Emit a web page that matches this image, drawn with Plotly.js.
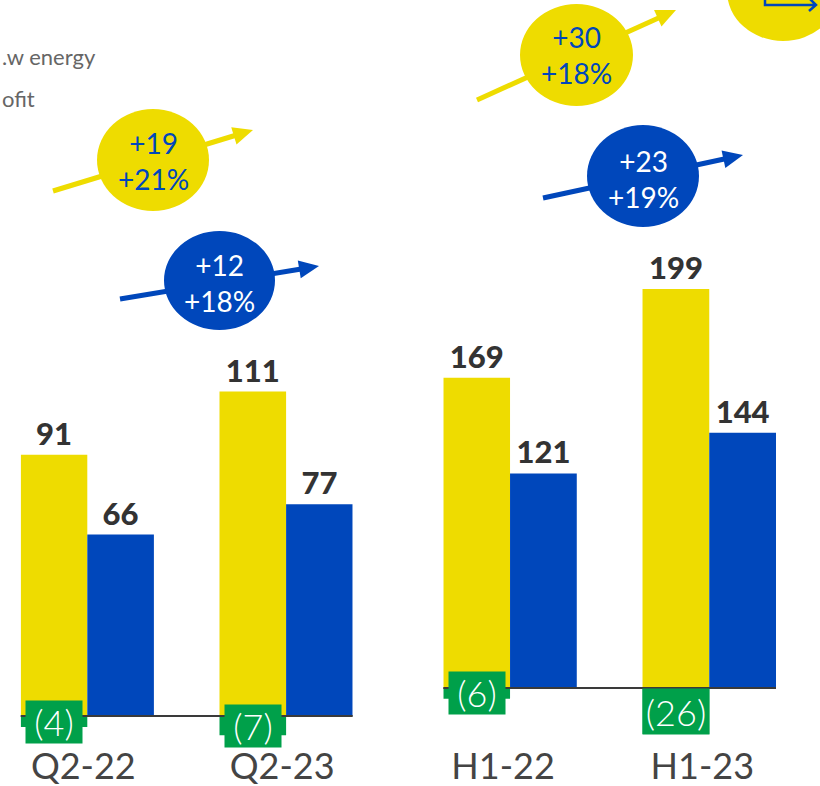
<!DOCTYPE html>
<html>
<head>
<meta charset="utf-8">
<script src="https://cdn.plot.ly/plotly-3.0.1.min.js"></script>
<style>html,body{margin:0;padding:0;background:#fff;}#chart{width:820px;height:786px;}</style>
</head>
<body>
<div id="chart"></div>
<script>
// ---- data ----
const categoriesQ = ['Q2-22', 'Q2-23'];
const categoriesH = ['H1-22', 'H1-23'];
const yellowQ = [91, 111];
const blueQ = [66, 77];
const greenQ = [-4, -7];
const yellowH = [169, 199];
const blueH = [121, 144];
const greenH = [-6, -26];
const bubbleAbs = ['+19', '+12', '+30', '+23'];
const bubblePct = ['+21%', '+18%', '+18%', '+19%'];
const legendTexts = ['.w energy', 'ofit'];

// ---- style ----
const YEL = '#EEDC00', BLU = '#0047BB', GRN = '#00A04A', DARK = '#3a3a3a';
const W = 820, H = 786;
const FONT = 'Lato, "Open Sans", sans-serif';
const BW = 0.335;
const plotBottom = 742; // pixel of y-domain bottom
const px = x => x / W, py = y => 1 - y / H;

function yRange(k, base) { return [-(plotBottom - base) / k, base / k]; }

function panelTraces(cats, yel, blu, grn, xa, ya) {
  const yelTotal = yel.map((v, i) => v - grn[i]);
  return [
    {type: 'bar', x: cats, y: yelTotal, xaxis: xa, yaxis: ya, width: BW, offset: -BW,
     marker: {color: YEL, line: {width: 0}}, text: yel.map(String), textposition: 'outside',
     textfont: {family: FONT, size: 31, color: '#333', weight: 900}, cliponaxis: false, hoverinfo: 'skip'},
    {type: 'bar', x: cats, y: grn, xaxis: xa, yaxis: ya, width: BW, offset: -BW,
     marker: {color: GRN, line: {width: 0}}, hoverinfo: 'skip'},
    {type: 'bar', x: cats, y: blu, xaxis: xa, yaxis: ya, width: BW, offset: 0,
     marker: {color: BLU, line: {width: 0}}, text: blu.map(String), textposition: 'outside',
     textfont: {family: FONT, size: 31, color: '#333', weight: 900}, cliponaxis: false, hoverinfo: 'skip'}
  ];
}

const data = [
  ...panelTraces(categoriesQ, yellowQ, blueQ, greenQ, 'x', 'y'),
  ...panelTraces(categoriesH, yellowH, blueH, greenH, 'x2', 'y2')
];

const shapes = [];
const annotations = [];

// baselines
shapes.push({type: 'line', xref: 'x domain', yref: 'y', x0: 0, x1: 1, y0: 0, y1: 0, line: {color: DARK, width: 2}, layer: 'above'});
shapes.push({type: 'line', xref: 'x2 domain', yref: 'y2', x0: 0, x1: 1, y0: 0, y1: 0, line: {color: DARK, width: 2}, layer: 'above'});

// negative labels
function negLabels(cats, grn, xa, ya) {
  grn.forEach((v, i) => {
    const big = Math.abs(v) > 15;
    annotations.push({xref: xa, yref: ya, x: cats[i], y: v / 2, xshift: -BW * 199.3 / 2,
      text: '(' + Math.abs(v) + ')', showarrow: false, bgcolor: GRN, borderpad: 0,
      width: big ? 66 : 56, height: big ? 45 : 42, align: 'center', valign: 'middle',
      font: {family: FONT, size: 36, color: '#fff', weight: 300}});
  });
}
negLabels(categoriesQ, greenQ, 'x', 'y');
negLabels(categoriesH, greenH, 'x2', 'y2');

// arrows + bubbles (pixel geometry)
function arrow(tx, ty, hx, hy, color) {
  const dx = hx - tx, dy = hy - ty, L = Math.hypot(dx, dy);
  const ux = dx / L, uy = dy / L, nx = -uy, ny = ux;
  const hl = 20, hw = 9;
  const bx = hx - ux * hl, by = hy - uy * hl;
  shapes.push({type: 'line', xref: 'paper', yref: 'paper', x0: px(tx), y0: py(ty), x1: px(bx + ux * 2), y1: py(by + uy * 2),
    line: {color: color, width: 5}, layer: 'above'});
  const p = `M${px(hx)},${py(hy)} L${px(bx + nx * hw)},${py(by + ny * hw)} L${px(bx - nx * hw)},${py(by - ny * hw)} Z`;
  shapes.push({type: 'path', xref: 'paper', yref: 'paper', path: p, fillcolor: color, line: {width: 0}, layer: 'above'});
}
function bubble(cx, cy, rx, ry, color) {
  shapes.push({type: 'circle', xref: 'paper', yref: 'paper', x0: px(cx - rx), x1: px(cx + rx), y0: py(cy + ry), y1: py(cy - ry),
    fillcolor: color, line: {width: 0}, layer: 'above'});
}
function bubbleText(cx, cy, i, color) {
  annotations.push({xref: 'paper', yref: 'paper', x: px(cx), y: py(cy), text: bubbleAbs[i] + '<br>' + bubblePct[i],
    showarrow: false, xanchor: 'center', yanchor: 'middle', align: 'center',
    font: {family: FONT, size: 28, color: color, weight: 400}});
}

arrow(53, 191, 253, 130, YEL);
bubble(153, 160, 56, 51, YEL);
bubbleText(153, 161, 0, BLU);

arrow(120, 299, 319, 266, BLU);
bubble(219.5, 280.5, 55.5, 49.5, BLU);
bubbleText(219.5, 283, 1, '#fff');

arrow(477, 100, 676, 10, YEL);
bubble(576.5, 55, 56.5, 51, YEL);
bubbleText(576.5, 55, 2, BLU);

arrow(543, 198, 743, 155, BLU);
bubble(643, 176, 56, 51, BLU);
bubbleText(643, 179, 3, '#fff');

// partial bubble at top-right with icon
bubble(783, -9, 56, 50, YEL);
shapes.push({type: 'path', xref: 'paper', yref: 'paper',
  path: `M${px(765)},${py(-3)} L${px(765)},${py(5)} L${px(816)},${py(5)} M${px(809)},${py(-2)} L${px(816)},${py(5)} L${px(809)},${py(11)}`,
  line: {color: BLU, width: 2.5}, layer: 'above'});

// cut-off legend texts
annotations.push({xref: 'paper', yref: 'paper', x: 0, y: py(57), xanchor: 'left', yanchor: 'middle', text: legendTexts[0], showarrow: false,
  font: {family: FONT, size: 22, color: '#666'}});
annotations.push({xref: 'paper', yref: 'paper', x: 0, y: py(99), xanchor: 'left', yanchor: 'middle', text: legendTexts[1], showarrow: false,
  font: {family: FONT, size: 22, color: '#666'}});

const axX = {range: [-0.335, 1.335], showgrid: false, zeroline: false, showline: false, ticks: '', fixedrange: true,
  tickfont: {family: FONT, size: 36, color: '#444'}};
const axY = {showgrid: false, zeroline: false, showline: false, showticklabels: false, ticks: '', fixedrange: true,
  domain: [(H - plotBottom) / H, 1]};

const layout = {
  width: W, height: H,
  margin: {l: 0, r: 0, t: 0, b: 0},
  paper_bgcolor: '#fff', plot_bgcolor: '#fff',
  showlegend: false, barmode: 'overlay',
  xaxis: Object.assign({}, axX, {domain: [20.7 / W, 352.7 / W], anchor: 'y', ticklabelshift: -4}),
  xaxis2: Object.assign({}, axX, {domain: [443.3 / W, 776 / W], anchor: 'y2', ticklabelshift: -7}),
  yaxis: Object.assign({}, axY, {range: yRange(2.75, 716), anchor: 'x'}),
  yaxis2: Object.assign({}, axY, {range: yRange(1.773, 688), anchor: 'x2'}),
  shapes: shapes,
  annotations: annotations
};

Plotly.newPlot('chart', data, layout, {staticPlot: true, displayModeBar: false});
</script>
</body>
</html>
